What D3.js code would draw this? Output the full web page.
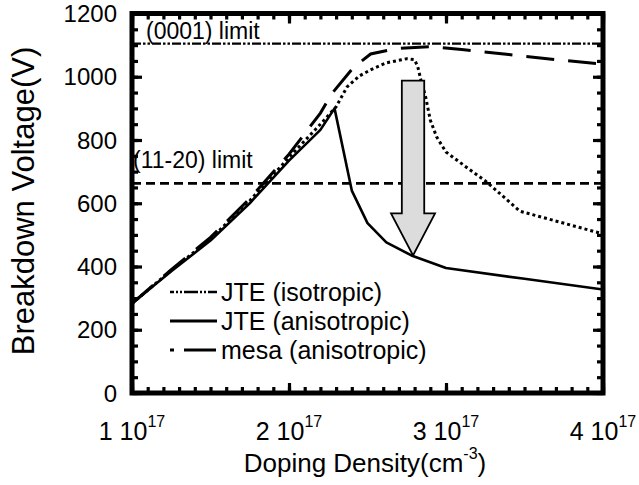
<!DOCTYPE html>
<html><head><meta charset="utf-8">
<script src="https://cdn.jsdelivr.net/npm/d3@7"></script>
<style>body{margin:0;background:#fff;} svg{display:block;} text{font-family:"Liberation Sans",Arial,sans-serif;fill:#000;}</style>
</head><body><svg id="c" width="639" height="485"></svg>
<script>
// Doping density in units of 1e17 cm^-3, breakdown voltage in V
const dopingIso   = [1.0,1.25,1.5,1.75,2.0,2.2,2.3,2.37,2.45,2.52,2.62,2.75,2.80,2.82,2.84,2.87,2.90,2.94,3.0,3.13,3.26,3.47,4.0];
const voltIso     = [283,388,487,608,745,850,905,968,1003,1022,1044,1057,1054,1032,990,937,863,810,762,714,667,575,503];
const dopingAniso = [1.0,1.25,1.5,1.75,2.0,2.2,2.29,2.40,2.50,2.62,2.78,3.0,3.5,4.0];
const voltAniso   = [283,385,482,600,735,832,900,640,537,476,435,395,361,327];
const dopingMesa  = [1.0,1.25,1.5,1.75,2.0,2.2,2.27,2.41,2.52,2.68,2.9,3.1,3.4,3.7,4.0];
const voltMesa    = [283,390,492,615,755,885,945,1029,1072,1089,1095,1086,1070,1054,1040];
const limit0001 = 1105;
const limit1120 = 663;
const xMajor = [1,2,3,4];
const xTickLabels = ["1 10","2 10","3 10","4 10"];
const yMajor = [0,200,400,600,800,1000,1200];
const legendLabels = ["JTE (isotropic)","JTE (anisotropic)","mesa (anisotropic)"];
// arrow annotation (data units)
const arrowX = 2.79, arrowTop = 988, arrowHeadBase = 568, arrowTip = 435;

const svg = d3.select("#c");
const x = d3.scaleLinear().domain([1,4]).range([132,603]);
const y = d3.scaleLinear().domain([0,1200]).range([393,13.5]);

svg.append("defs").append("clipPath").attr("id","clip")
  .append("rect").attr("x",132).attr("y",13.5).attr("width",471).attr("height",379.5);

const plot = svg.append("g").attr("clip-path","url(#clip)");
const line = d3.line().x(d=>x(d[0])).y(d=>y(d[1]));

// limit lines
plot.append("line").attr("x1",x(1)).attr("x2",x(4)).attr("y1",y(limit0001)).attr("y2",y(limit0001))
  .attr("stroke","#000").attr("stroke-width",2.3).attr("stroke-dasharray","9,2,2.5,2,2.5,2");
plot.append("line").attr("x1",x(1)).attr("x2",x(4)).attr("y1",y(limit1120)).attr("y2",y(limit1120))
  .attr("stroke","#000").attr("stroke-width",2.6).attr("stroke-dasharray","9,5");

const zip = (a,b)=>a.map((v,i)=>[v,b[i]]);
plot.append("path").datum(zip(dopingMesa,voltMesa)).attr("d",line).attr("fill","none")
  .attr("stroke","#000").attr("stroke-width",3).attr("stroke-dasharray","28,14");
plot.append("path").datum(zip(dopingIso,voltIso)).attr("d",line).attr("fill","none")
  .attr("stroke","#000").attr("stroke-width",3).attr("stroke-dasharray","3,3");
plot.append("path").datum(zip(dopingAniso,voltAniso)).attr("d",line).attr("fill","none")
  .attr("stroke","#000").attr("stroke-width",2.6).attr("stroke-linejoin","round");

// arrow
const ax = x(arrowX), sw = 11.2, hw = 22;
const pts = [[ax-sw,y(arrowTop)],[ax+sw,y(arrowTop)],[ax+sw,y(arrowHeadBase)],[ax+hw,y(arrowHeadBase)],
  [ax,y(arrowTip)],[ax-hw,y(arrowHeadBase)],[ax-sw,y(arrowHeadBase)]];
svg.append("polygon").attr("points",pts.map(p=>p.join(",")).join(" "))
  .attr("fill","#dcdcdc").attr("stroke","#000").attr("stroke-width",1.8).attr("stroke-linejoin","miter");

// ticks (inward) on all four sides
function ticks(axisFn, scale, vals, size, transform){
  const g = svg.append("g").attr("transform",transform)
    .call(axisFn(scale).tickValues(vals).tickSize(size).tickFormat(""));
  g.select(".domain").remove();
  g.selectAll(".tick line").attr("stroke","#000").attr("stroke-width",3.2);
}
const xMinor = d3.range(1,4.0001,0.1).map(v=>+v.toFixed(2));
const yMinor = d3.range(0,1200.01,50);
ticks(d3.axisBottom, x, xMinor, -6, `translate(0,${y(0)})`);
ticks(d3.axisBottom, x, xMajor, -10, `translate(0,${y(0)})`);
ticks(d3.axisTop, x, xMinor, -6, `translate(0,${y(1200)})`);
ticks(d3.axisTop, x, xMajor, -10, `translate(0,${y(1200)})`);
ticks(d3.axisLeft, y, yMinor, -6, `translate(${x(1)},0)`);
ticks(d3.axisLeft, y, yMajor, -10, `translate(${x(1)},0)`);
ticks(d3.axisRight, y, yMinor, -6, `translate(${x(4)},0)`);
ticks(d3.axisRight, y, yMajor, -10, `translate(${x(4)},0)`);

// frame
svg.append("rect").attr("x",x(1)).attr("y",y(1200)).attr("width",x(4)-x(1)).attr("height",y(0)-y(1200))
  .attr("fill","none").attr("stroke","#000").attr("stroke-width",5);

// y tick labels
svg.append("g").selectAll("text").data(yMajor).join("text")
  .attr("x",117).attr("y",d=>y(d)).attr("dy","0.36em").attr("text-anchor","end")
  .attr("font-size",24).text(d=>d);

// x tick labels with superscript
xMajor.forEach((v,i)=>{
  const t = svg.append("text").attr("x",x(v)).attr("y",440).attr("text-anchor","middle").attr("font-size",25);
  t.append("tspan").text(xTickLabels[i]);
  t.append("tspan").attr("font-size",16).attr("dy",-13).text("17");
});

// axis titles
const xt = svg.append("text").attr("x",365).attr("y",472).attr("text-anchor","middle").attr("font-size",26);
xt.append("tspan").text("Doping Density(cm");
xt.append("tspan").attr("font-size",16).attr("dy",-13).text("-3");
xt.append("tspan").attr("dy",13).text(")");
svg.append("text").attr("transform","translate(34,201) rotate(-90)").attr("text-anchor","middle")
  .attr("font-size",31).text("Breakdown Voltage(V)");

// limit labels
svg.append("text").attr("x",146).attr("y",39).attr("font-size",23).text("(0001) limit");
svg.append("text").attr("x",133).attr("y",168).attr("font-size",23).text("(11-20) limit");

// legend
const legDash = ["4,2,2,2,2,2,10,0","none","4,10,28,0"];
const legY = [292,321,350];
legendLabels.forEach((lab,i)=>{
  svg.append("line").attr("x1",170).attr("x2",217).attr("y1",legY[i]).attr("y2",legY[i])
    .attr("stroke","#000").attr("stroke-width",i===0?2.3:3).attr("stroke-dasharray",legDash[i]);
  svg.append("text").attr("x",221).attr("y",legY[i]).attr("dy","0.36em").attr("font-size",25).text(lab);
});
</script></body></html>
